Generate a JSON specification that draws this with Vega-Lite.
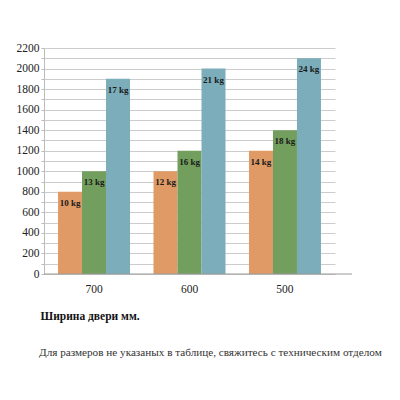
{
  "$schema": "https://vega.github.io/schema/vega-lite/v6.json",
  "autosize": {"type": "none"},
  "width": 308,
  "height": 226,
  "padding": {"left": 44, "top": 48, "right": 48, "bottom": 126},
  "background": "white",
  "config": {
    "view": {"stroke": null},
    "font": "Liberation Serif",
    "axis": {"labelFont": "Liberation Serif", "titleFont": "Liberation Serif"}
  },
  "title": {
    "text": "Для размеров не указаных в таблице, свяжитесь с техническим отделом",
    "orient": "bottom",
    "anchor": "start",
    "font": "Liberation Serif",
    "fontSize": 11.2,
    "fontWeight": "normal",
    "color": "#333333",
    "offset": 25,
    "dx": 23
  },
  "data": {
    "values": [
      {"width": "700", "series": "a", "value": 800, "label": "10 kg"},
      {"width": "700", "series": "b", "value": 1000, "label": "13 kg"},
      {"width": "700", "series": "c", "value": 1900, "label": "17 kg"},
      {"width": "600", "series": "a", "value": 1000, "label": "12 kg"},
      {"width": "600", "series": "b", "value": 1200, "label": "16 kg"},
      {"width": "600", "series": "c", "value": 2000, "label": "21 kg"},
      {"width": "500", "series": "a", "value": 1200, "label": "14 kg"},
      {"width": "500", "series": "b", "value": 1400, "label": "18 kg"},
      {"width": "500", "series": "c", "value": 2100, "label": "24 kg"}
    ]
  },
  "encoding": {
    "x": {
      "field": "width",
      "type": "nominal",
      "sort": ["700", "600", "500"],
      "scale": {"range": [0, 291], "paddingInner": 0.246, "paddingOuter": 0.147},
      "axis": {
        "title": "Ширина двери мм.",
        "titleFontWeight": "bold",
        "titleFontSize": 11.5,
        "titleColor": "#111111",
        "titleAnchor": "start",
        "titleAlign": "left",
        "titleX": -4,
        "titlePadding": 16,
        "labelAngle": 0,
        "labelFontSize": 11.5,
        "labelColor": "#222222",
        "labelPadding": 9,
        "domain": false,
        "ticks": false
      }
    },
    "xOffset": {"field": "series", "type": "nominal", "scale": {"paddingInner": 0, "paddingOuter": 0}},
    "y": {
      "field": "value",
      "type": "quantitative",
      "scale": {"domain": [0, 2200], "nice": false},
      "axis": {
        "title": null,
        "values": [0,100,200,300,400,500,600,700,800,900,1000,1100,1200,1300,1400,1500,1600,1700,1800,1900,2000,2100,2200],
        "format": "d",
        "labelExpr": "datum.value % 200 == 0 ? datum.label : ''",
        "labelFontSize": 11.5,
        "labelColor": "#222222",
        "labelPadding": 2,
        "gridColor": "#cccccc",
        "domainColor": "#bbbbbb",
        "tickColor": "#bbbbbb",
        "tickSize": 3
      }
    }
  },
  "layer": [
    {
      "mark": {"type": "bar"},
      "encoding": {
        "color": {
          "field": "series",
          "type": "nominal",
          "scale": {"domain": ["a", "b", "c"], "range": ["#DF9A66", "#729E5E", "#7BADBA"]},
          "legend": null
        }
      }
    },
    {
      "mark": {"type": "text", "baseline": "middle", "dy": 11, "fontSize": 9, "fontWeight": "bold", "color": "#1a1a1a", "font": "Liberation Serif"},
      "encoding": {"text": {"field": "label"}}
    },
    {
      "data": {"values": [{"v": 0}]},
      "mark": {"type": "rule", "color": "#999999", "strokeWidth": 1},
      "encoding": {"y": {"field": "v", "type": "quantitative"}, "x": null, "xOffset": null}
    }
  ]
}
